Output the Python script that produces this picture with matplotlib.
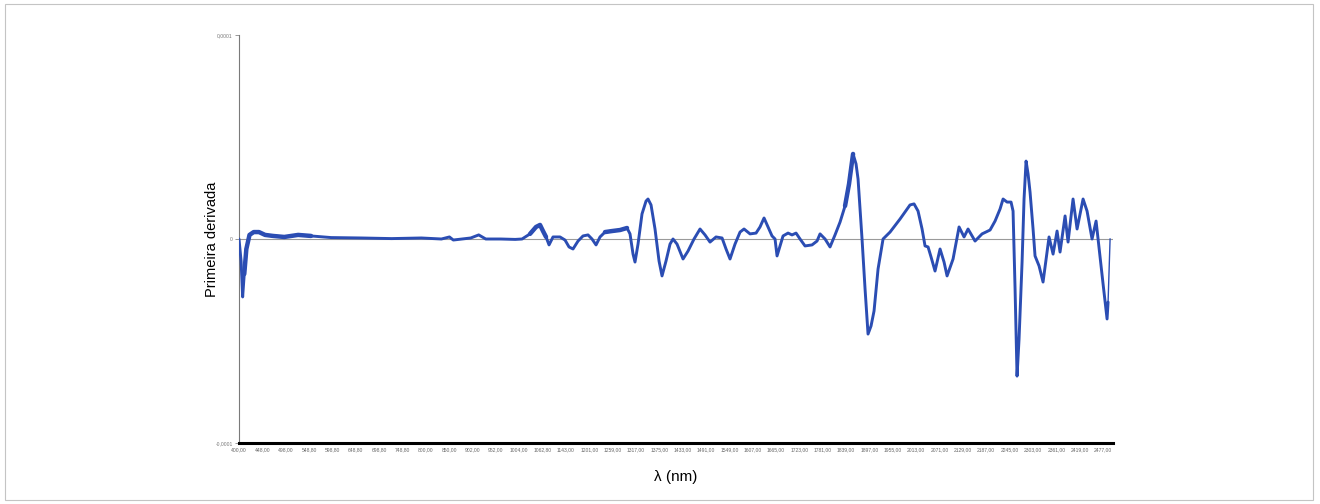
import numpy as np
import matplotlib
matplotlib.use("Agg")
import matplotlib.pyplot as plt
from matplotlib.patches import Rectangle

# ---- category tick labels (wavelength, nm) ----
tick_nm = [400.0, 448.0, 498.0, 548.8, 598.8, 648.8, 698.8, 748.8, 800.0, 850.0,
           902.0, 952.0, 1004.0, 1062.8, 1143.0, 1201.0, 1259.0, 1317.0, 1375.0,
           1433.0, 1491.0, 1549.0, 1607.0, 1665.0, 1723.0, 1781.0, 1839.0, 1897.0,
           1955.0, 2013.0, 2071.0, 2129.0, 2187.0, 2245.0, 2303.0, 2361.0, 2419.0,
           2477.0]
tick_labels = [f"{v:.2f}".replace(".", ",") for v in tick_nm]

# ---- first-derivative spectrum ----
wavelength = [400.0, 404.3, 407.5, 410.8, 415.1, 421.6, 430.2, 441.0, 453.9, 471.1,
              494.9, 525.0, 553.1, 596.2, 660.9, 725.6, 790.2, 833.4, 850.6, 859.2,
              898.0, 915.3, 930.4, 962.7, 995.1, 1011.1, 1031.2, 1046.3, 1056.4, 1064.3,
              1074.7, 1085.0, 1098.7, 1122.7, 1139.9, 1150.7, 1160.6, 1173.1, 1185.5, 1197.9,
              1207.8, 1217.8, 1227.7, 1240.1, 1257.5, 1277.4, 1294.8, 1302.2, 1309.7, 1314.6,
              1322.1, 1332.0, 1342.0, 1346.9, 1354.4, 1364.3, 1374.3, 1381.7, 1391.6, 1401.6,
              1409.0, 1419.0, 1433.9, 1446.3, 1461.2, 1476.1, 1488.5, 1500.9, 1515.8, 1530.8,
              1540.7, 1550.6, 1563.0, 1575.5, 1585.4, 1600.3, 1615.2, 1625.1, 1635.1, 1645.0,
              1654.9, 1662.4, 1667.4, 1674.8, 1682.3, 1694.7, 1704.6, 1714.6, 1724.5, 1736.9,
              1754.3, 1766.7, 1774.2, 1786.6, 1799.0, 1811.4, 1823.9, 1836.3, 1846.2, 1856.2,
              1863.6, 1868.6, 1873.5, 1878.5, 1886.0, 1893.4, 1900.9, 1908.3, 1918.3, 1930.7,
              1948.1, 1972.9, 1997.7, 2007.7, 2017.6, 2027.6, 2035.0, 2042.5, 2049.9, 2059.8,
              2072.3, 2082.2, 2089.7, 2104.6, 2119.5, 2131.9, 2141.8, 2159.2, 2176.6, 2196.5,
              2208.9, 2221.3, 2228.8, 2238.7, 2248.6, 2253.6, 2258.6, 2263.5, 2268.5, 2276.0,
              2280.9, 2285.9, 2290.9, 2295.8, 2303.3, 2308.2, 2318.2, 2328.1, 2335.6, 2343.0,
              2353.0, 2362.9, 2370.3, 2382.8, 2390.2, 2402.6, 2412.6, 2427.5, 2437.4, 2449.8,
              2459.8, 2464.7, 2477.2, 2487.1, 2489.6, 2494.6]
derivative_e5 = [0.00, -1.08, -2.84, -1.72, -0.49, 0.20, 0.34, 0.34, 0.20, 0.15,
                 0.10, 0.20, 0.15, 0.07, 0.05, 0.02, 0.05, 0.00, 0.10, -0.05,
                 0.05, 0.20, 0.00, 0.00, -0.02, 0.00, 0.25, 0.59, 0.69, 0.39,
                 0.10, -0.29, 0.10, 0.10, -0.05, -0.39, -0.49, -0.10, 0.15, 0.20,
                 0.00, -0.29, 0.10, 0.34, 0.39, 0.44, 0.54, 0.25, -0.74, -1.13,
                 -0.25, 1.23, 1.86, 1.96, 1.67, 0.49, -1.08, -1.81, -1.08, -0.25,
                 0.00, -0.25, -0.98, -0.59, 0.00, 0.49, 0.20, -0.15, 0.10, 0.05,
                 -0.49, -0.98, -0.25, 0.34, 0.49, 0.25, 0.29, 0.59, 1.03, 0.59,
                 0.15, 0.00, -0.83, -0.34, 0.15, 0.29, 0.20, 0.29, 0.00, -0.34,
                 -0.29, -0.10, 0.25, 0.00, -0.39, 0.20, 0.83, 1.62, 2.70, 4.17,
                 3.68, 2.94, 1.47, 0.00, -2.45, -4.66, -4.26, -3.53, -1.47, 0.00,
                 0.34, 0.98, 1.67, 1.72, 1.37, 0.49, -0.34, -0.39, -0.88, -1.57,
                 -0.49, -1.13, -1.81, -0.98, 0.59, 0.10, 0.49, -0.10, 0.25, 0.44,
                 0.88, 1.47, 1.96, 1.81, 1.81, 1.37, -2.45, -6.72, -4.90, -1.13,
                 1.96, 3.82, 3.19, 2.30, 0.49, -0.83, -1.32, -2.11, -0.98, 0.10,
                 -0.74, 0.39, -0.64, 1.13, -0.15, 1.96, 0.49, 1.96, 1.37, 0.00,
                 0.88, 0.00, -2.21, -3.92, -3.09, 0.00]

# noisier (thicker-looking) stretches of the trace, nm
thick_ranges = [(410.0, 560.0), (1031.0, 1075.0), (1228.0, 1300.0), (1836.0, 1857.0)]

wl = np.array(wavelength)
dy = np.array(derivative_e5) * 1e-5

# category axis: each labelled wavelength sits at an equally spaced position
cat_nm = np.array(tick_nm + [tick_nm[-1] + 58.0])
cat_pos = np.arange(len(cat_nm), dtype=float)
xpos = np.interp(wl, cat_nm, cat_pos)

fig = plt.figure(figsize=(13.2, 5.04), dpi=100)
fig.patches.append(Rectangle((0.004, 0.008), 0.991, 0.984, transform=fig.transFigure,
                             fill=False, ec="#c4c4c4", lw=0.8))
ax = fig.add_axes([239 / 1320, 61 / 504, 874 / 1320, 408 / 504])

blue = "#2b4db3"
ax.axhline(0, color="#9a9a9a", lw=0.8, zorder=1)
ax.plot(xpos[:-1], dy[:-1], color=blue, lw=2.1, solid_joinstyle="round",
        solid_capstyle="round", zorder=3)
ax.plot(xpos[-2:], dy[-2:], color=blue, lw=1.0, zorder=3)
for lo, hi in thick_ranges:
    m = (wl >= lo) & (wl <= hi)
    ax.plot(xpos[m], dy[m], color=blue, lw=3.2, solid_joinstyle="round",
            solid_capstyle="round", zorder=3)

n_cat = len(tick_nm)
ax.set_xlim(0, (1113 - 239) / ((1103 - 239) / (n_cat - 1)))
ax.set_ylim(-1e-4, 1e-4)

ax.set_xticks(np.arange(n_cat))
ax.set_xticklabels(tick_labels, fontsize=3.6, color="#666666", family="Liberation Sans")
ax.set_yticks([-1e-4, 0, 1e-4])
ax.set_yticklabels(["-0,0001", "0", "0,0001"], fontsize=3.6, color="#777777",
                   family="Liberation Sans")
ax.tick_params(axis="x", length=0, pad=3)
ax.tick_params(axis="y", length=3, width=0.6, color="#888888", pad=1.5)

for s in ("top", "right"):
    ax.spines[s].set_visible(False)
ax.spines["left"].set_color("#7a7a7a")
ax.spines["left"].set_linewidth(0.8)
ax.spines["bottom"].set_color("black")
ax.spines["bottom"].set_linewidth(2.2)

ax.set_ylabel("Primeira derivada", fontsize=10.5, family="Liberation Sans")
ax.yaxis.set_label_coords(-0.023, 0.5)
ax.set_xlabel("λ (nm)", fontsize=11, family="Liberation Sans")
ax.xaxis.set_label_coords(0.5, -0.066)

fig.savefig("out.png", dpi=100)
